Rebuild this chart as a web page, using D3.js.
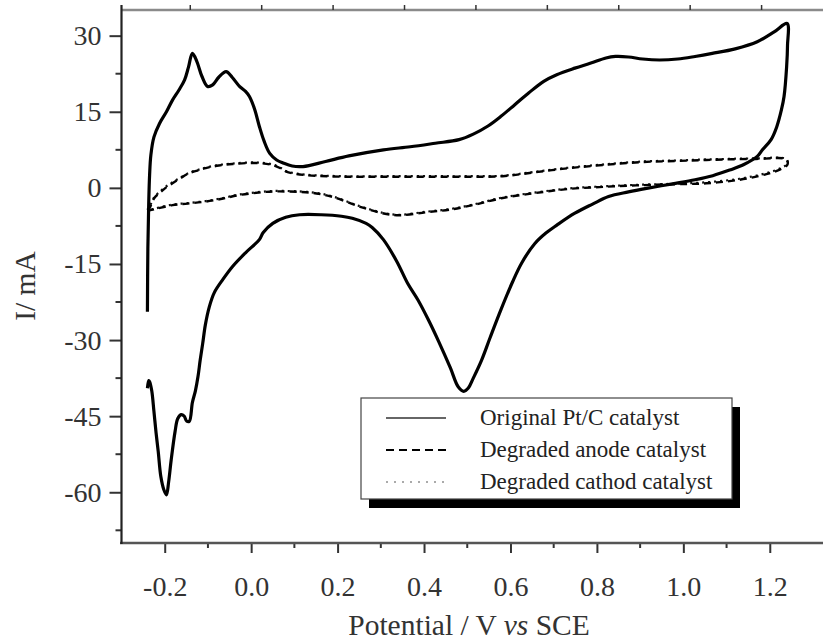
<!DOCTYPE html>
<html>
<head>
<meta charset="utf-8">
<script src="https://cdn.jsdelivr.net/npm/d3@7"></script>
<style>
  body { margin: 0; background: #fff; }
  svg { display: block; font-family: "Liberation Serif", "Times New Roman", serif; }
</style>
</head>
<body>
<svg id="cv"></svg>
<script>
// values: [potential V, current mA]
const originalPtC = [
  [-0.240,-24.4],[-0.239,-12],[-0.237,-3],[-0.235,2.5],[-0.232,6.5],[-0.225,10],[-0.212,12.7],
  [-0.196,15],[-0.182,17.3],[-0.167,19.3],[-0.154,21.3],[-0.145,23.8],[-0.136,26.5],[-0.126,25],
  [-0.114,22],[-0.101,20],[-0.089,20.3],[-0.075,21.8],[-0.058,22.9],[-0.044,21.8],[-0.027,20],
  [-0.013,19],[-0.004,18],[0.008,15.5],[0.019,12.1],[0.030,9.2],[0.043,6.8],[0.059,5.5],[0.074,4.9],
  [0.095,4.3],[0.120,4.2],[0.172,5.2],[0.226,6.3],[0.306,7.5],[0.368,8.1],[0.426,8.8],[0.481,9.5],
  [0.514,10.6],[0.548,12.2],[0.578,14.1],[0.610,16.4],[0.642,18.7],[0.677,21],[0.707,22.3],
  [0.749,23.6],[0.786,24.6],[0.821,25.6],[0.843,25.9],[0.873,25.8],[0.906,25.4],[0.945,25.2],
  [0.987,25.4],[1.027,25.9],[1.067,26.5],[1.120,27.4],[1.171,28.8],[1.211,30.8],[1.240,32.4],
  [1.241,28],[1.239,23.9],[1.233,18],[1.227,15.4],[1.216,12],[1.203,9.5],[1.183,7.5],[1.171,6.2],
  [1.140,4.6],[1.107,3.5],[1.068,2.4],[1.027,1.6],[0.975,0.8],[0.915,-0.1],[0.873,-0.8],[0.827,-1.7],
  [0.790,-3.2],[0.749,-5],[0.708,-7.3],[0.682,-8.9],[0.656,-11],[0.626,-14.8],[0.605,-18.5],
  [0.578,-24],[0.553,-29.5],[0.533,-34],[0.514,-37.5],[0.502,-39.5],[0.492,-40.1],[0.479,-39.2],
  [0.461,-35.5],[0.434,-30.3],[0.410,-26],[0.386,-22.1],[0.362,-18.8],[0.337,-14.5],[0.306,-10.2],
  [0.280,-7.8],[0.266,-7],[0.234,-6],[0.209,-5.6],[0.162,-5.3],[0.112,-5.3],[0.080,-5.8],
  [0.050,-7],[0.028,-8.8],[0.019,-10.2],[-0.013,-12.8],[-0.043,-15.5],[-0.065,-18],[-0.085,-20.6],
  [-0.097,-23.5],[-0.106,-27],[-0.112,-30.6],[-0.118,-34],[-0.123,-37.2],[-0.129,-40],[-0.136,-42.3],
  [-0.143,-46],[-0.149,-46],[-0.155,-45],[-0.162,-44.7],[-0.170,-45.5],[-0.176,-48],[-0.185,-53.6],
  [-0.191,-58],[-0.196,-60.5],[-0.202,-59.5],[-0.209,-56.9],[-0.215,-52],[-0.220,-48.3],
  [-0.225,-44],[-0.230,-40],[-0.235,-38.2],[-0.237,-38],[-0.240,-39.5]
];

const degradedAnode = [
  [-0.240,-4.5],[-0.235,-4.0],[-0.224,-2.0],[-0.212,-1.0],[-0.198,0],[-0.182,0.9],[-0.162,2.0],
  [-0.143,2.9],[-0.121,3.5],[-0.105,3.9],[-0.075,4.4],[-0.043,4.7],[0.012,4.9],[0.050,4.5],
  [0.069,3.8],[0.081,3.2],[0.100,2.8],[0.127,2.5],[0.214,2.2],[0.317,2.2],[0.425,2.2],[0.505,2.2],
  [0.582,2.3],[0.659,3.1],[0.737,3.9],[0.814,4.5],[0.906,5.1],[0.986,5.3],[1.053,5.5],[1.168,5.7],
  [1.238,5.6],[1.241,4.6],[1.223,3.6],[1.192,2.7],[1.130,1.6],[1.053,0.9],[0.975,0.7],[0.891,0.5],
  [0.814,0.2],[0.737,-0.2],[0.659,-1.0],[0.582,-2.0],[0.513,-3.4],[0.459,-4.3],[0.405,-4.8],
  [0.343,-5.4],[0.304,-5.0],[0.251,-3.7],[0.189,-1.8],[0.151,-1.1],[0.112,-0.8],[0.059,-0.7],
  [0.034,-0.8],[-0.027,-1.4],[-0.065,-2.1],[-0.105,-2.7],[-0.147,-3.1],[-0.182,-3.4],
  [-0.214,-4.0],[-0.228,-4.3],[-0.240,-4.6]
];

const degradedCathode = [
  [-0.240,-4.3],[-0.235,-3.7],[-0.224,-1.8],[-0.212,-0.8],[-0.198,0.2],[-0.182,1.1],[-0.162,2.1],
  [-0.143,3.0],[-0.121,3.6],[-0.105,4.0],[-0.075,4.5],[-0.043,4.8],[0.012,5.0],[0.050,4.6],
  [0.069,3.9],[0.081,3.3],[0.100,2.9],[0.127,2.6],[0.214,2.3],[0.317,2.3],[0.425,2.3],[0.505,2.3],
  [0.582,2.4],[0.659,3.2],[0.737,4.0],[0.814,4.6],[0.906,5.2],[0.986,5.4],[1.053,5.6],[1.168,5.8],
  [1.238,5.7],[1.241,4.8],[1.223,3.8],[1.192,2.9],[1.130,1.8],[1.053,1.1],[0.975,0.8],[0.891,0.6],
  [0.814,0.3],[0.737,-0.1],[0.659,-0.9],[0.582,-1.9],[0.513,-3.3],[0.459,-4.2],[0.405,-4.7],
  [0.343,-5.3],[0.304,-4.9],[0.251,-3.6],[0.189,-1.7],[0.151,-1.0],[0.112,-0.7],[0.059,-0.6],
  [0.034,-0.7],[-0.027,-1.3],[-0.065,-2.0],[-0.105,-2.6],[-0.147,-3.0],[-0.182,-3.3],
  [-0.214,-3.9],[-0.228,-4.2],[-0.240,-4.4]
];

const xMajorTicks = [-0.2, 0.0, 0.2, 0.4, 0.6, 0.8, 1.0, 1.2];
const xMinorTicks = [-0.1, 0.1, 0.3, 0.5, 0.7, 0.9, 1.1];
const yMajorTicks = [-60, -45, -30, -15, 0, 15, 30];
const yMinorTicks = [-67.5, -52.5, -37.5, -22.5, -7.5, 7.5, 22.5];
const topTicks = [0, 1, 2, 3, 4, 5, 6, 7, 8];
const legendLabels = ["Original Pt/C catalyst", "Degraded anode catalyst", "Degraded cathod catalyst"];

const W = 823, H = 643;
const svg = d3.select("#cv").attr("width", W).attr("height", H);
svg.append("rect").attr("width", W).attr("height", H).attr("fill", "#fff");

// scales (plot is cut off on the right, like the reference)
const x = d3.scaleLinear().domain([-0.3, 1.3]).range([121.5, 813]);
const y = d3.scaleLinear().domain([-70, 35]).range([543, 10.3]);
const xTop = d3.scaleLinear().domain([-0.97, 9]).range([121, 833]);

// top frame line with its own small ticks
svg.append("line")
  .attr("x1", 121).attr("x2", W).attr("y1", 10).attr("y2", 10)
  .attr("stroke", "#8a8a8a").attr("stroke-width", 2.5);
svg.append("g").selectAll("line").data(topTicks).enter().append("line")
  .attr("x1", d => xTop(d)).attr("x2", d => xTop(d))
  .attr("y1", 5).attr("y2", 10)
  .attr("stroke", "#333").attr("stroke-width", 1.5);

// bottom axis
const fmtX = d => d.toFixed(1);
const xAxis = svg.append("g")
  .attr("transform", `translate(0,${y(-70)})`)
  .call(d3.axisBottom(x).tickValues(xMajorTicks).tickFormat(fmtX).tickSize(10).tickPadding(23));
xAxis.select(".domain").remove();
xAxis.selectAll(".tick line").attr("stroke", "#333").attr("stroke-width", 2);
xAxis.selectAll("text").attr("fill", "#333").style("font-size", "28px")
  .style("font-family", "Liberation Serif, serif");
svg.append("g").selectAll("line").data(xMinorTicks).enter().append("line")
  .attr("x1", d => x(d)).attr("x2", d => x(d))
  .attr("y1", y(-70)).attr("y2", y(-70) + 5)
  .attr("stroke", "#333").attr("stroke-width", 2);
svg.append("line")
  .attr("x1", 120).attr("x2", W).attr("y1", y(-70)).attr("y2", y(-70))
  .attr("stroke", "#555").attr("stroke-width", 2.5);

// left axis
const yAxis = svg.append("g")
  .attr("transform", `translate(${x(-0.3)},0)`)
  .call(d3.axisLeft(y).tickValues(yMajorTicks).tickFormat(d => String(d)).tickSize(12).tickPadding(8));
yAxis.select(".domain").remove();
yAxis.selectAll(".tick line").attr("stroke", "#333").attr("stroke-width", 2);
yAxis.selectAll("text").attr("fill", "#333").style("font-size", "28px")
  .style("font-family", "Liberation Serif, serif");
svg.append("g").selectAll("line").data(yMinorTicks).enter().append("line")
  .attr("x1", x(-0.3) - 6).attr("x2", x(-0.3))
  .attr("y1", d => y(d)).attr("y2", d => y(d))
  .attr("stroke", "#333").attr("stroke-width", 2);
svg.append("line")
  .attr("x1", x(-0.3)).attr("x2", x(-0.3)).attr("y1", 5).attr("y2", y(-70) + 1)
  .attr("stroke", "#222").attr("stroke-width", 2.2);

// curves
const line = d3.line()
  .x(d => x(d[0]))
  .y(d => y(d[1]))
  .curve(d3.curveCatmullRom.alpha(0.5));

svg.append("path").datum(degradedCathode)
  .attr("d", line).attr("fill", "none")
  .attr("stroke", "#111").attr("stroke-width", 2.2)
  .attr("stroke-dasharray", "2,4");

svg.append("path").datum(degradedAnode)
  .attr("d", line).attr("fill", "none")
  .attr("stroke", "#000").attr("stroke-width", 2.4)
  .attr("stroke-dasharray", "7,5");

svg.append("path").datum(originalPtC)
  .attr("d", line).attr("fill", "none")
  .attr("stroke", "#000").attr("stroke-width", 3.2)
  .attr("stroke-linejoin", "round");

// legend with drop shadow
const lg = svg.append("g").attr("transform", "translate(361,398)");
lg.append("rect").attr("x", 8).attr("y", 9).attr("width", 371).attr("height", 101).attr("fill", "#000");
lg.append("rect").attr("width", 371).attr("height", 101)
  .attr("fill", "#fff").attr("stroke", "#444").attr("stroke-width", 1.2);

const sampleStyles = [
  { stroke: "#666", width: 2, dash: null },
  { stroke: "#000", width: 2, dash: "8,5" },
  { stroke: "#aaa", width: 2, dash: "2,6" }
];
legendLabels.forEach((label, i) => {
  const ly = 20 + i * 32;
  lg.append("line")
    .attr("x1", 25).attr("x2", 85).attr("y1", ly).attr("y2", ly)
    .attr("stroke", sampleStyles[i].stroke)
    .attr("stroke-width", sampleStyles[i].width)
    .attr("stroke-dasharray", sampleStyles[i].dash);
  lg.append("text")
    .attr("x", 119).attr("y", ly + 7)
    .attr("fill", "#222")
    .style("font-size", "23px")
    .text(label);
});

// axis titles
const xt = svg.append("text")
  .attr("x", 469).attr("y", 635)
  .attr("text-anchor", "middle")
  .attr("fill", "#333")
  .style("font-size", "29.5px");
xt.append("tspan").text("Potential / V ");
xt.append("tspan").style("font-style", "italic").text("vs");
xt.append("tspan").text(" SCE");

svg.append("text")
  .attr("transform", "translate(35,286) rotate(-90)")
  .attr("text-anchor", "middle")
  .attr("fill", "#333")
  .style("font-size", "29.5px")
  .text("I/ mA");
</script>
</body>
</html>
